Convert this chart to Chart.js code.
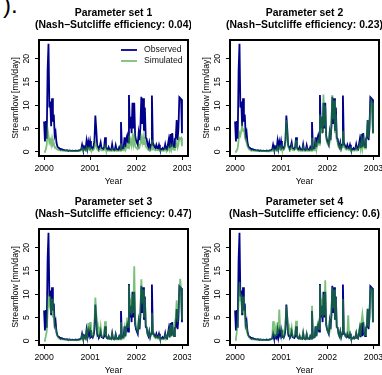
<!DOCTYPE html>
<html><head><meta charset="utf-8">
<script src="https://cdn.jsdelivr.net/npm/chart.js@4/dist/chart.umd.min.js"></script>
<style>
html,body{margin:0;padding:0;background:#fff;width:382px;height:375px;overflow:hidden;position:relative}
.p{position:absolute;width:191px;height:187px}
#frag{position:absolute;left:3px;top:-9px;font:24px 'Liberation Sans',Arial,sans-serif;color:#000;white-space:pre}
</style></head><body>
<div id="frag">).</div>
<div class="p" style="left:0;top:0"><canvas id="c0" width="191" height="187"></canvas></div>
<div class="p" style="left:191px;top:0"><canvas id="c1" width="191" height="187"></canvas></div>
<div class="p" style="left:0;top:189px"><canvas id="c2" width="191" height="187"></canvas></div>
<div class="p" style="left:191px;top:189px"><canvas id="c3" width="191" height="187"></canvas></div>
<script>
const FONT = "'Liberation Sans', Arial, sans-serif";
const START_YEAR = 2000;
const STEP_YEARS = 7 / 365.25; // weekly samples
const X_TICKS = [2000, 2001, 2002, 2003];
const Y_TICKS = [0, 5, 10, 15, 20];
const PANEL_TITLES = ['Parameter set 1', 'Parameter set 2', 'Parameter set 3', 'Parameter set 4'];
const NSE = ['0.04', '0.23', '0.47', '0.6'];
const SERIES_NAMES = ['Observed', 'Simulated'];

const observed = [
 6.5,2.2,6.6,2.8,17.5,23.2,9.5,10.8,5.5,11.5,6.5,8.0,3.5,4.2,2.0,1.2,0.9,0.8,0.6,0.5,
 0.6,0.4,0.4,0.35,0.3,0.3,0.35,0.25,0.25,0.3,0.2,0.2,0.25,0.2,0.2,0.2,0.25,0.2,0.2,0.3,
 0.3,0.4,0.5,1.5,0.6,0.5,1.0,0.6,2.3,0.8,2.2,1.2,2.3,0.8,1.0,0.7,1.2,2.5,7.8,5.0,
 1.5,1.0,0.8,1.2,2.0,0.8,0.7,0.6,1.0,3.1,1.0,0.6,0.5,1.0,0.5,0.5,0.4,1.6,0.5,0.4,
 0.4,1.4,0.5,0.5,0.4,1.0,0.5,6.4,1.0,0.7,0.8,3.1,1.0,2.8,3.5,2.0,12.2,5.0,7.5,4.0,
 10.5,5.0,10.5,3.5,2.5,2.0,1.5,4.0,2.5,5.5,11.8,6.0,11.5,4.5,9.5,3.0,2.8,1.5,1.0,2.0,
 0.8,1.5,12.1,2.0,1.5,1.0,0.8,1.5,0.8,0.7,1.5,0.7,0.6,0.5,0.8,0.5,0.6,1.6,0.6,0.5,
 1.5,2.6,0.8,3.8,1.0,4.0,1.5,1.0,2.8,3.0,6.8,2.5,5.0,11.7,11.5,11.3,4.0];

const simulated1 = [
 0.0,0.1,0.5,1.5,4.8,3.5,2.0,2.5,1.5,2.8,1.5,1.8,0.9,1.0,0.6,0.5,0.4,0.35,0.3,0.3,
 0.25,0.25,0.22,0.2,0.2,0.2,0.2,0.18,0.18,0.18,0.16,0.16,0.15,0.15,0.15,0.15,0.15,0.14,0.14,0.15,
 0.15,0.2,0.3,0.8,0.4,0.3,0.5,0.3,0.9,0.4,0.8,0.5,0.9,0.4,0.5,0.3,0.5,0.8,2.0,1.5,
 0.6,0.4,0.3,0.5,0.8,0.3,0.3,0.3,0.4,1.2,0.4,0.3,0.2,0.4,0.2,0.2,0.2,0.6,0.2,0.2,
 0.2,0.5,0.2,0.2,0.2,0.4,0.2,1.8,0.4,0.3,0.3,1.0,0.4,1.0,1.4,0.8,3.5,1.6,2.5,1.4,
 3.2,1.8,4.0,1.2,0.9,0.7,0.6,1.5,1.0,1.8,3.0,2.0,3.2,1.5,2.6,1.1,1.0,0.6,0.4,0.7,
 0.3,0.5,2.6,0.8,0.6,0.4,0.3,0.5,0.3,0.3,0.5,0.3,0.25,0.2,0.3,0.2,0.25,0.6,0.25,0.2,
 0.5,0.9,0.3,1.2,0.4,1.3,0.6,0.4,1.0,1.1,2.0,0.9,1.6,3.0,2.8,3.0,1.2];

const simulated2 = [
 0.0,0.1,0.3,0.8,2.5,4.0,3.5,4.5,5.5,4.5,5.0,3.5,2.5,2.0,1.2,0.8,0.5,0.4,0.3,0.3,
 0.25,0.25,0.2,0.2,0.2,0.18,0.18,0.16,0.16,0.15,0.15,0.14,0.14,0.13,0.13,0.12,0.12,0.12,0.12,0.12,
 0.12,0.15,0.2,0.6,0.3,0.2,0.4,0.3,1.0,0.4,1.0,0.6,1.2,0.5,0.6,0.4,0.8,2.0,6.8,4.0,
 1.2,0.6,0.4,0.6,1.2,0.4,0.3,0.3,0.5,2.5,0.6,0.3,0.2,0.5,0.2,0.2,0.2,1.0,0.2,0.2,
 0.2,0.7,0.2,0.2,0.2,0.5,0.2,3.0,0.5,0.3,0.3,1.8,0.5,1.8,2.5,1.5,8.0,4.0,7.5,4.0,
 12.3,5.5,10.0,3.0,2.0,1.6,1.5,4.0,3.0,6.0,12.2,7.0,11.0,4.0,8.0,2.5,2.0,1.0,0.8,1.5,
 0.5,1.0,4.5,1.5,1.0,0.6,0.5,0.8,0.4,0.4,0.8,0.3,0.3,0.25,0.3,0.25,0.3,0.8,0.3,0.3,
 0.8,1.5,0.5,2.5,0.8,2.5,1.0,0.7,3.0,3.5,6.8,3.0,6.0,9.0,11.0,10.5,4.0];

const simulated3 = [
 0.0,0.2,1.0,2.0,6.0,9.8,8.0,9.5,6.0,9.0,5.0,6.0,3.0,3.0,1.6,1.0,0.7,0.5,0.4,0.35,
 0.3,0.3,0.28,0.26,0.25,0.24,0.22,0.2,0.2,0.18,0.18,0.16,0.15,0.15,0.14,0.14,0.13,0.13,0.13,0.14,
 0.15,0.2,0.3,1.2,0.5,0.4,0.8,0.5,2.0,1.0,3.8,2.0,4.0,1.2,1.5,1.0,2.0,3.5,9.3,6.0,
 2.0,3.0,1.2,1.5,3.0,1.0,0.8,1.0,1.5,4.2,1.2,0.6,0.5,1.0,0.4,0.4,0.3,1.5,0.4,0.3,
 0.3,1.2,0.3,0.3,0.3,0.8,0.3,4.0,0.8,0.5,0.5,2.5,0.8,3.0,5.0,3.0,12.0,6.0,9.0,5.5,
 10.0,6.0,16.0,5.0,3.0,2.5,2.0,4.5,3.5,7.0,13.2,8.0,11.0,5.0,9.0,3.5,3.0,1.5,1.2,2.0,
 0.8,1.5,6.0,2.0,1.2,0.8,0.6,1.0,0.5,0.5,1.0,0.4,0.35,0.3,0.4,0.3,0.35,1.2,0.4,0.4,
 1.2,2.0,0.6,3.5,1.0,3.5,1.5,1.0,4.0,5.0,8.7,4.0,7.0,10.0,13.3,11.0,4.5];

const simulated4 = [
 0.2,0.5,2.0,4.0,8.0,12.6,8.5,10.0,6.0,9.5,5.5,7.0,3.0,3.5,1.6,1.0,0.7,0.5,0.4,0.35,
 0.3,0.3,0.28,0.26,0.25,0.24,0.22,0.2,0.2,0.2,0.18,0.18,0.17,0.17,0.16,0.16,0.16,0.15,0.15,0.2,
 0.3,0.3,0.5,4.2,1.5,1.0,2.5,1.0,4.0,1.5,6.7,2.5,2.5,1.2,2.0,1.0,2.0,3.5,7.5,5.0,
 2.0,2.8,1.0,1.5,2.8,1.0,0.8,1.0,1.5,4.3,1.2,0.6,0.5,1.2,0.5,0.5,0.4,1.8,0.5,0.4,
 0.4,1.5,0.4,0.4,0.4,1.0,0.5,7.5,1.2,0.8,0.8,3.0,1.0,3.2,4.0,2.5,12.0,5.5,9.0,5.0,
 10.0,5.5,13.0,4.0,2.5,2.0,1.8,4.0,3.0,6.0,11.5,7.0,11.0,4.5,9.0,3.0,2.8,1.5,1.0,2.0,
 0.8,1.8,9.0,2.0,1.5,1.0,0.8,1.5,5.5,1.0,1.5,0.7,0.6,0.5,0.8,0.5,0.6,1.6,0.6,0.5,
 2.0,3.0,1.0,4.0,5.7,4.0,1.8,1.2,3.0,3.5,7.0,3.0,5.5,10.5,11.2,11.0,4.0];

const simulatedSets = [simulated1, simulated2, simulated3, simulated4];

const OBS_COLOR = '#00008B';
const SIM_COLOR = 'rgba(34,150,34,0.6)';

function toPoints(arr) {
  return arr.map((v, i) => ({ x: START_YEAR + i * STEP_YEARS, y: v }));
}

const boxPlugin = {
  id: 'box',
  afterDraw(chart) {
    const a = chart.chartArea, ctx = chart.ctx;
    ctx.save();
    ctx.strokeStyle = '#000';
    ctx.lineWidth = 2;
    ctx.strokeRect(a.left, a.top, a.right - a.left, a.bottom - a.top);
    ctx.restore();
  }
};

const titlePlugin = {
  id: 'panelTitle',
  afterDraw(chart, args, opts) {
    const a = chart.chartArea, ctx = chart.ctx;
    const cx = (a.left + a.right) / 2;
    ctx.save();
    ctx.fillStyle = '#000';
    ctx.font = 'bold 10.4px ' + FONT;
    ctx.textAlign = 'center';
    ctx.textBaseline = 'middle';
    ctx.fillText(opts.line1, cx, 12.7);
    ctx.fillText(opts.line2, cx, 25);
    ctx.restore();
  }
};

const legendPlugin = {
  id: 'innerLegend',
  afterDraw(chart, args, opts) {
    if (!opts.show) return;
    const ctx = chart.ctx;
    const rows = [[SERIES_NAMES[0], OBS_COLOR, 50], [SERIES_NAMES[1], SIM_COLOR, 61]];
    ctx.save();
    ctx.font = '8.7px ' + FONT;
    ctx.textAlign = 'left';
    ctx.textBaseline = 'middle';
    rows.forEach(([name, col, y]) => {
      ctx.strokeStyle = col;
      ctx.lineWidth = 1.8;
      ctx.beginPath();
      ctx.moveTo(121, y);
      ctx.lineTo(137, y);
      ctx.stroke();
      ctx.fillStyle = '#111';
      ctx.fillText(name, 144, y);
    });
    ctx.restore();
  }
};

function makePanel(k) {
  const gridOpts = { drawOnChartArea: false, drawTicks: true, tickLength: 4, color: '#000', lineWidth: 1 };
  new Chart(document.getElementById('c' + k), {
    type: 'line',
    data: {
      datasets: [
        { label: SERIES_NAMES[1], data: toPoints(simulatedSets[k]), borderColor: SIM_COLOR, borderWidth: 1.8,
          pointRadius: 0, tension: 0, fill: false, order: 0 },
        { label: SERIES_NAMES[0], data: toPoints(observed), borderColor: OBS_COLOR, borderWidth: 1.8,
          pointRadius: 0, tension: 0, fill: false, order: 1 }
      ]
    },
    plugins: [boxPlugin, titlePlugin, legendPlugin],
    options: {
      responsive: false,
      animation: false,
      events: [],
      layout: { padding: { top: 40, right: 3, left: 0, bottom: 0 } },
      plugins: {
        legend: { display: false },
        tooltip: { enabled: false },
        title: { display: false },
        panelTitle: { line1: PANEL_TITLES[k], line2: '(Nash\u2212Sutcliffe efficiency: ' + NSE[k] + ')' },
        innerLegend: { show: k === 0 }
      },
      scales: {
        x: {
          type: 'linear', min: 1999.89, max: 2003.12,
          afterBuildTicks: s => { s.ticks = X_TICKS.map(v => ({ value: v })); },
          afterFit: s => { s.height = 31; s.paddingLeft = 0; s.paddingRight = 0; },
          grid: gridOpts,
          border: { display: false },
          ticks: { autoSkip: false, minRotation: 0, maxRotation: 0, padding: 3, color: '#000',
                   font: { family: FONT, size: 8.7 }, callback: v => String(v) },
          title: { display: true, text: 'Year', color: '#000', font: { family: FONT, size: 8.7 },
                   padding: { top: 0, bottom: 0 } }
        },
        y: {
          type: 'linear', min: -0.9, max: 24.0,
          afterBuildTicks: s => { s.ticks = Y_TICKS.map(v => ({ value: v })); },
          afterFit: s => { s.width = 39; s.paddingTop = 0; s.paddingBottom = 0; },
          grid: gridOpts,
          border: { display: false },
          ticks: { autoSkip: false, minRotation: 90, maxRotation: 90, crossAlign: 'center', padding: 3.5,
                   color: '#000', font: { family: FONT, size: 8.7 }, callback: v => String(v) },
          title: { display: true, text: 'Streamflow [mm/day]', color: '#000', font: { family: FONT, size: 8.7 },
                   padding: { top: 10, bottom: 0 } }
        }
      }
    }
  });
}

[0, 1, 2, 3].forEach(makePanel);
</script>
</body></html>
